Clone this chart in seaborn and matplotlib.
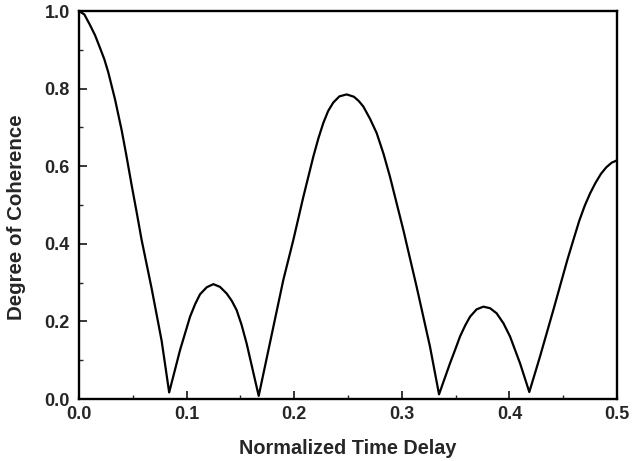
import numpy as np
import pandas as pd
import matplotlib
matplotlib.use("Agg")
import matplotlib.pyplot as plt
import seaborn as sns
from matplotlib.ticker import MultipleLocator

delay = [0.0, 0.005, 0.0102, 0.015, 0.0195, 0.0235, 0.0272, 0.0335, 0.0397, 0.0440, 0.0490, 0.0540,
         0.0582, 0.0675, 0.0768, 0.0838,
         0.0939, 0.1032, 0.1080, 0.1125, 0.1187, 0.1249, 0.1310, 0.1372, 0.1420, 0.1465, 0.1510, 0.1558,
         0.1670,
         0.1899, 0.1992, 0.2085, 0.2178, 0.2225, 0.2270, 0.2315, 0.2363, 0.2420, 0.2488, 0.2555, 0.2600,
         0.2642, 0.2705, 0.2767, 0.2830, 0.2890, 0.3014, 0.3138, 0.3262, 0.3346,
         0.3448, 0.3500, 0.3541, 0.3590, 0.3634, 0.3695, 0.3758, 0.3820, 0.3881, 0.3945, 0.4006, 0.4099,
         0.4185,
         0.4284, 0.4408, 0.4538, 0.4600, 0.4650, 0.4700, 0.4750, 0.4800, 0.4850, 0.4900, 0.4950, 0.5000]
coherence = [1.0, 0.991, 0.964, 0.937, 0.905, 0.876, 0.842, 0.772, 0.692, 0.628, 0.550, 0.475,
             0.410, 0.285, 0.150, 0.017,
             0.126, 0.212, 0.245, 0.270, 0.288, 0.296, 0.289, 0.272, 0.253, 0.229, 0.192, 0.143,
             0.008,
             0.307, 0.410, 0.521, 0.625, 0.672, 0.711, 0.742, 0.764, 0.780, 0.785, 0.779, 0.768,
             0.754, 0.722, 0.685, 0.632, 0.573, 0.436, 0.289, 0.135, 0.012,
             0.092, 0.130, 0.161, 0.190, 0.212, 0.231, 0.238, 0.234, 0.221, 0.195, 0.161, 0.092,
             0.018,
             0.109, 0.229, 0.358, 0.415, 0.460, 0.498, 0.530, 0.557, 0.580, 0.597, 0.609, 0.615]

x_ticks = [0.0, 0.1, 0.2, 0.3, 0.4, 0.5]
y_ticks = [0.0, 0.2, 0.4, 0.6, 0.8, 1.0]

sns.set_style("white")
plt.rcParams['font.family'] = ['Liberation Sans', 'DejaVu Sans']

df = pd.DataFrame({"delay": delay, "coherence": coherence})

fig = plt.figure(figsize=(6.38, 4.61), dpi=100)
ax = fig.add_axes([79/638, 62/461, (617-79)/638, (399-11)/461])
sns.lineplot(data=df, x="delay", y="coherence", ax=ax, color="black", linewidth=1.6, sort=False)

ax.set_xlim(0, 0.5)
ax.set_ylim(0, 1.0)
ax.set_xticks(x_ticks)
ax.set_yticks(y_ticks)
ax.set_xticklabels([f"{t:.1f}" for t in x_ticks], fontsize=13, fontweight="bold")
ax.set_yticklabels([f"{t:.1f}" for t in y_ticks], fontsize=13, fontweight="bold")
ax.xaxis.set_minor_locator(MultipleLocator(0.05))
ax.yaxis.set_minor_locator(MultipleLocator(0.1))
ax.tick_params(which="major", direction="in", length=6, width=1.3, bottom=True, left=True, top=False, right=False)
ax.tick_params(axis="x", which="major", pad=5)
ax.tick_params(axis="y", which="major", pad=6.5)
ax.tick_params(which="minor", direction="in", length=3, width=1.0, bottom=True, left=True, top=False, right=False)
for s in ax.spines.values():
    s.set_color("black")
    s.set_linewidth(1.7)
ax.set_xlabel("Normalized Time Delay", fontsize=14.3, fontweight="bold")
ax.set_ylabel("Degree of Coherence", fontsize=14.8, fontweight="bold")
ax.xaxis.set_label_coords(0.5, -0.103)
ax.yaxis.set_label_coords(-0.0985, 0.469)

fig.savefig("out.png", dpi=100)
